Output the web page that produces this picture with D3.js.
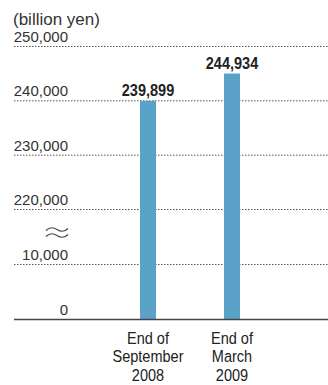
<!DOCTYPE html>
<html><head><meta charset="utf-8">
<script src="https://cdnjs.cloudflare.com/ajax/libs/d3/7.8.5/d3.min.js"></script>
<style>
html,body{margin:0;padding:0;background:#fff;}
svg{display:block;}
</style></head>
<body>
<script>
const categories = [["End of","September","2008"],["End of","March","2009"]];
const values = [239899, 244934];
const valueLabels = ["239,899", "244,934"];
const tickValues = [0, 10000, 220000, 230000, 240000, 250000];
const tickLabels = ["0", "10,000", "220,000", "230,000", "240,000", "250,000"];
const unitLabel = "(billion yen)";

const W = 328, H = 385;
const svg = d3.select("body").append("svg").attr("width", W).attr("height", H);

// broken axis: 0–10,000 bottom segment, 220,000–250,000 top segment
const y = d3.scaleLinear().domain([0, 10000, 220000, 250000]).range([319, 264, 209, 46]);
const x = d3.scalePoint().domain(d3.range(categories.length)).range([148, 232]);
const barW = 16;
const left = 14, right = 328, labelRight = 68;

const regular = "'Liberation Sans',Arial,Helvetica,sans-serif";

// gridlines
svg.append("g").selectAll("line").data(tickValues.filter(d => d !== 0)).join("line")
  .attr("x1", left).attr("x2", right)
  .attr("y1", d => y(d) + 0.5).attr("y2", d => y(d) + 0.5)
  .attr("stroke", "#555").attr("stroke-width", 1).attr("stroke-dasharray", "1.5,1.5");

// tick labels
svg.append("g").selectAll("text").data(tickValues).join("text")
  .attr("x", labelRight).attr("y", d => y(d) - 4)
  .attr("text-anchor", "end")
  .attr("font-family", regular).attr("font-size", 15).attr("fill", "#333")
  .text((d, i) => tickLabels[i]);

// unit label
svg.append("text").attr("x", 13).attr("y", 24.5)
  .attr("font-family", regular).attr("font-size", 17).attr("fill", "#333")
  .text(unitLabel);

// break mark (two tildes)
const brk = svg.append("g").attr("fill", "none").attr("stroke", "#444").attr("stroke-width", 1.1);
[229.5, 235.5].forEach(yy => {
  brk.append("path").attr("d",
    `M46,${yy+1} C50,${yy-3} 54,${yy-2} 57,${yy} S64,${yy+3} 68,${yy-1}`);
});

// bars
svg.append("g").selectAll("rect").data(values).join("rect")
  .attr("x", (d, i) => x(i) - barW / 2).attr("width", barW)
  .attr("y", d => y(d)).attr("height", d => y(0) - y(d))
  .attr("fill", "#5ba2c8");

// value labels (condensed bold)
svg.append("g").selectAll("g").data(values).join("g")
  .attr("transform", (d, i) => `translate(${x(i)},${y(d) - 5}) scale(0.88,1)`)
  .append("text")
  .attr("text-anchor", "middle")
  .attr("font-family", regular).attr("font-weight", "bold").attr("font-size", 16.5).attr("fill", "#222")
  .text((d, i) => valueLabels[i]);

// baseline
svg.append("line").attr("x1", left).attr("x2", right)
  .attr("y1", y(0) + 0.5).attr("y2", y(0) + 0.5)
  .attr("stroke", "#444").attr("stroke-width", 1.5);

// category labels (condensed)
const cat = svg.append("g").selectAll("g").data(categories).join("g")
  .attr("transform", (d, i) => `translate(${x(i)},344) scale(0.88,1)`)
  .append("text")
  .attr("text-anchor", "middle")
  .attr("font-family", regular).attr("font-size", 16.5).attr("fill", "#222");
cat.selectAll("tspan").data(d => d).join("tspan")
  .attr("x", 0)
  .attr("dy", (d, i) => i === 0 ? 0 : 18.5)
  .text(d => d);
</script>
</body></html>
